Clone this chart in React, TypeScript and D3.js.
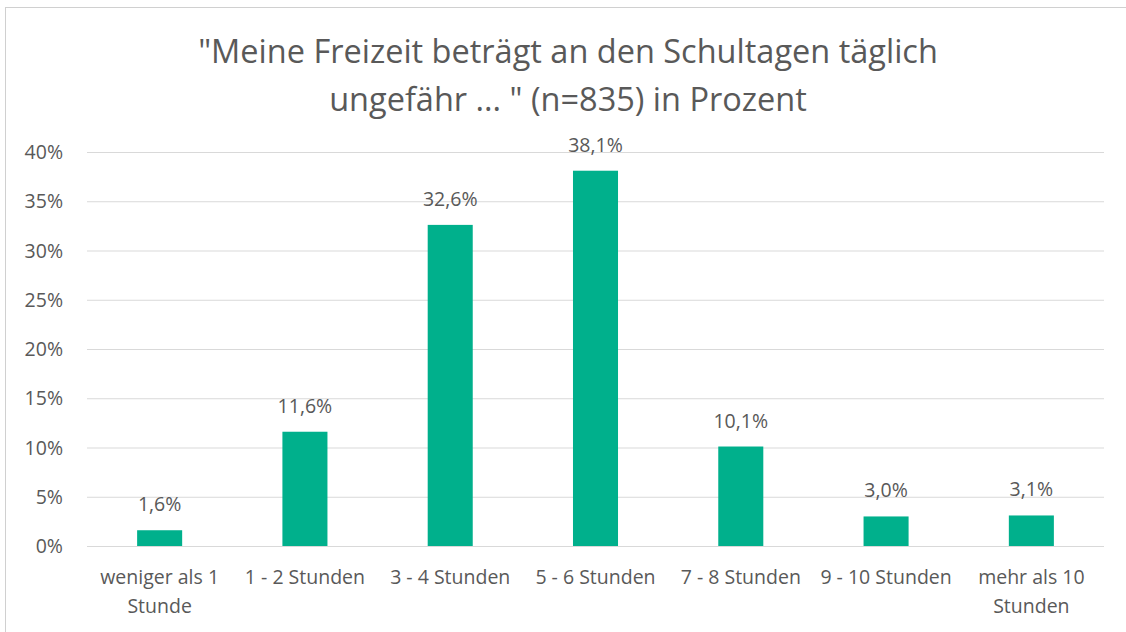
import React, { useRef, useEffect } from "react";
import * as d3 from "d3";

const categories = [
  ["weniger als 1", "Stunde"],
  ["1 - 2 Stunden"],
  ["3 - 4 Stunden"],
  ["5 - 6 Stunden"],
  ["7 - 8 Stunden"],
  ["9 - 10 Stunden"],
  ["mehr als 10", "Stunden"],
];
const values = [1.6, 11.6, 32.6, 38.1, 10.1, 3.0, 3.1];
const yTicks = [0, 5, 10, 15, 20, 25, 30, 35, 40];
const titleLines = [
  "\"Meine Freizeit beträgt an den Schultagen täglich",
  "ungefähr ... \" (n=835) in Prozent",
];

const width = 1126;
const height = 632;
const margin = { top: 152, right: 22, bottom: 86, left: 87 };
const font = "'Open Sans', sans-serif";
const textColor = "#595959";

const App = () => {
  const svgRef = useRef<SVGSVGElement>(null);

  useEffect(() => {
    const svg = d3.select(svgRef.current);
    svg.selectAll("*").remove();

    // chart border
    svg
      .append("rect")
      .attr("x", 5.5)
      .attr("y", 7.5)
      .attr("width", width - 5)
      .attr("height", height)
      .attr("fill", "#fff")
      .attr("stroke", "#d0d0d0");

    const x = d3
      .scaleBand()
      .domain(categories.map((c, i) => String(i)))
      .range([margin.left, width - margin.right])
      .paddingInner(0.69)
      .paddingOuter(0.345);

    const y = d3
      .scaleLinear()
      .domain([0, 40])
      .range([height - margin.bottom, margin.top]);

    // title
    svg
      .append("g")
      .selectAll("text")
      .data(titleLines)
      .enter()
      .append("text")
      .attr("x", 568)
      .attr("y", (d, i) => 63 + i * 48)
      .attr("text-anchor", "middle")
      .style("font-family", font)
      .style("font-size", "32.5px")
      .attr("fill", textColor)
      .text((d) => d);

    // gridlines
    svg
      .append("g")
      .selectAll("line")
      .data(yTicks)
      .enter()
      .append("line")
      .attr("x1", margin.left)
      .attr("x2", width - margin.right)
      .attr("y1", (d) => y(d) + 0.5)
      .attr("y2", (d) => y(d) + 0.5)
      .attr("stroke", "#d9d9d9")
      .attr("stroke-width", 1);

    // y labels
    svg
      .append("g")
      .selectAll("text")
      .data(yTicks)
      .enter()
      .append("text")
      .attr("x", 63)
      .attr("y", (d) => y(d) + 7)
      .attr("text-anchor", "end")
      .style("font-family", font)
      .style("font-size", "19.5px")
      .attr("fill", textColor)
      .text((d) => d + "%");

    // bars
    svg
      .append("g")
      .selectAll("rect")
      .data(values)
      .enter()
      .append("rect")
      .attr("x", (d, i) => x(String(i)))
      .attr("y", (d) => y(d))
      .attr("width", x.bandwidth())
      .attr("height", (d) => y(0) - y(d))
      .attr("fill", "#00b08c");

    // value labels
    svg
      .append("g")
      .selectAll("text")
      .data(values)
      .enter()
      .append("text")
      .attr("x", (d, i) => x(String(i)) + x.bandwidth() / 2)
      .attr("y", (d) => y(d) - 19)
      .attr("text-anchor", "middle")
      .style("font-family", font)
      .style("font-size", "19.5px")
      .attr("fill", textColor)
      .text((d) => d.toFixed(1).replace(".", ",") + "%");

    // category labels
    const cat = svg
      .append("g")
      .selectAll("text")
      .data(categories)
      .enter()
      .append("text")
      .attr("text-anchor", "middle")
      .style("font-family", font)
      .style("font-size", "19.5px")
      .attr("fill", textColor);

    cat
      .selectAll("tspan")
      .data((d, i) => d.map((s) => ({ s, i })))
      .enter()
      .append("tspan")
      .attr("x", (d) => x(String(d.i)) + x.bandwidth() / 2)
      .attr("y", (d, j) => 584 + j * 29)
      .text((d) => d.s);
  }, []);

  return (
    <svg
      ref={svgRef}
      width={width}
      height={height}
      style={{ display: "block", position: "absolute", left: 0, top: 0 }}
    />
  );
};

export default App;
